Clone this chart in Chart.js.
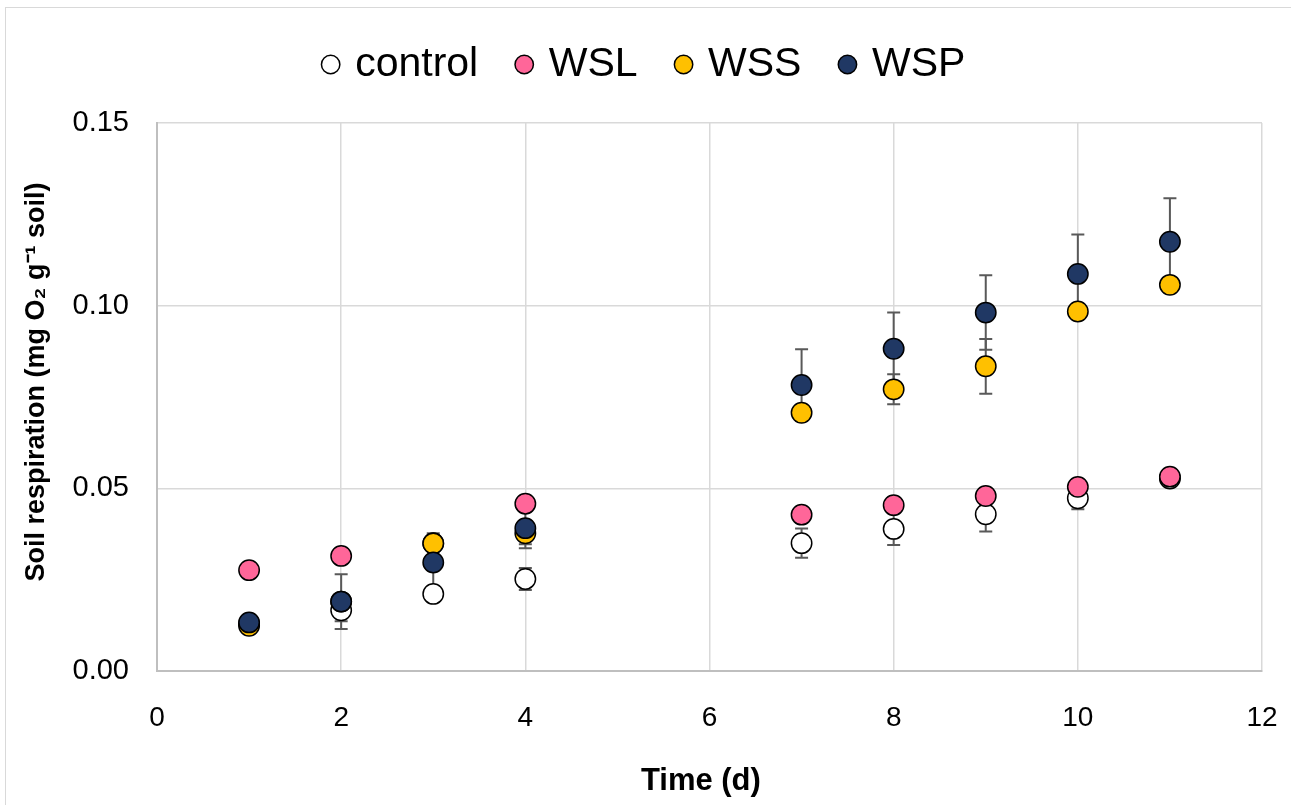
<!DOCTYPE html>
<html>
<head>
<meta charset="utf-8">
<script src="https://cdn.jsdelivr.net/npm/chart.js@4.4.1/dist/chart.umd.min.js"></script>
<style>
  html, body { margin: 0; padding: 0; background: #fff; overflow: hidden; }
  #frame { position: absolute; left: 5px; top: 7px; width: 1300px; height: 820px; border: 1px solid #d9d9d9; }
  #chart { position: absolute; left: 0; top: 0; }
</style>
</head>
<body>
<div id="frame"></div>
<canvas id="chart" width="1291" height="805"></canvas>
<script>
// data
const days = [1, 2, 3, 4, 7, 8, 9, 10, 11];
const control = [0.013, 0.0166, 0.0211, 0.0252, 0.0350, 0.0389, 0.0429, 0.0473, 0.0527];
const controlErr = [0.001, 0.003, 0.002, 0.003, 0.004, 0.0044, 0.0047, 0.003, 0.002];
const wsl = [0.0276, 0.0315, 0.0350, 0.0458, 0.0428, 0.0454, 0.0479, 0.0504, 0.0532];
const wslErr = [0.001, 0.002, 0.002, 0.002, 0.002, 0.002, 0.002, 0.002, 0.002];
const wss = [0.0124, 0.0190, 0.0349, 0.0377, 0.0707, 0.0771, 0.0834, 0.0984, 0.1057];
const wssErr = [0.001, 0.002, 0.002, 0.003, 0.002, 0.0041, 0.0075, 0.002, 0.002];
const wsp = [0.0133, 0.0190, 0.0297, 0.0391, 0.0783, 0.0882, 0.0981, 0.1087, 0.1175];
const wspErr = [0.001, 0.0075, 0.008, 0.0055, 0.0098, 0.0099, 0.0102, 0.0108, 0.0119];

const xTicks = [0, 2, 4, 6, 8, 10, 12];
const yTicks = [0, 0.05, 0.10, 0.15];

const font = "'Liberation Sans', Arial, sans-serif";

function points(vals) {
    return vals.map((v, i) => ({x: days[i], y: v}));
}

function series(label, vals, errs, fill, order) {
    return {
        label: label,
        data: points(vals),
        errors: errs,
        backgroundColor: fill,
        borderColor: '#000000',
        borderWidth: 1.5,
        pointRadius: 10.2,
        pointHoverRadius: 10.2,
        pointStyle: 'circle',
        showLine: false,
        order: order
    };
}

// error bars go under all markers
const errorBars = {
    id: 'errorBars',
    beforeDatasetsDraw(chart) {
        const ctx = chart.ctx, x = chart.scales.x, y = chart.scales.y;
        ctx.save();
        ctx.strokeStyle = '#595959';
        ctx.lineWidth = 2;
        chart.data.datasets.forEach(ds => {
            ds.data.forEach((p, j) => {
                const e = ds.errors[j];
                const px = x.getPixelForValue(p.x);
                const top = y.getPixelForValue(p.y + e);
                const bot = y.getPixelForValue(p.y - e);
                ctx.beginPath();
                ctx.moveTo(px, top); ctx.lineTo(px, bot);
                ctx.moveTo(px - 6.5, top); ctx.lineTo(px + 6.5, top);
                ctx.moveTo(px - 6.5, bot); ctx.lineTo(px + 6.5, bot);
                ctx.stroke();
            });
        });
        ctx.restore();
    }
};

// fix the legend box height so the plot starts where it should
const legendFit = {
    id: 'legendFit',
    beforeLayout(chart) {
        const lg = chart.legend;
        if (lg && !lg._fixed) {
            const fit = lg.fit;
            lg.fit = function () { fit.call(this); this.height = 121; };
            lg._fixed = true;
        }
    }
};

const config = {
    type: 'scatter',
    data: {
        datasets: [
            series('control', control, controlErr, '#ffffff', 4),
            series('WSL', wsl, wslErr, '#ff6699', 3),
            series('WSS', wss, wssErr, '#ffc000', 2),
            series('WSP', wsp, wspErr, '#203864', 1)
        ]
    },
    options: {
        responsive: false,
        animation: false,
        devicePixelRatio: 1,
        layout: {padding: {left: 30, right: 29, top: 2, bottom: 0}},
        plugins: {
            tooltip: {enabled: false},
            legend: {
                position: 'top',
                labels: {
                    usePointStyle: true,
                    boxWidth: 8,
                    boxHeight: 13,
                    padding: 42,
                    color: '#000',
                    font: {family: font, size: 41},
                    sort: (a, b) => a.datasetIndex - b.datasetIndex
                }
            }
        },
        scales: {
            x: {
                type: 'linear',
                min: 0,
                max: 12,
                afterFit: axis => {
                    axis.height = 134;
                    axis.paddingLeft = 0;
                    axis.paddingRight = 0;
                },
                afterBuildTicks: axis => { axis.ticks = xTicks.map(v => ({value: v})); },
                grid: {color: '#d9d9d9', lineWidth: 1.5, drawTicks: false},
                border: {color: '#bfbfbf', width: 2},
                ticks: {color: '#000', padding: 30, font: {family: font, size: 28}},
                title: {
                    display: true,
                    text: 'Time (d)  ',
                    color: '#000',
                    font: {family: font, size: 31, weight: 'bold'},
                    padding: {top: 0, bottom: 5}
                }
            },
            y: {
                type: 'linear',
                min: 0,
                max: 0.15,
                afterFit: axis => {
                    axis.width = 127;
                    axis.paddingTop = 0;
                    axis.paddingBottom = 0;
                },
                afterBuildTicks: axis => { axis.ticks = yTicks.map(v => ({value: v})); },
                grid: {color: '#d9d9d9', lineWidth: 1.5, drawTicks: false},
                border: {color: '#bfbfbf', width: 2},
                ticks: {
                    color: '#000',
                    padding: 28,
                    font: {family: font, size: 29},
                    callback: v => v.toFixed(2)
                },
                title: {
                    display: true,
                    text: '    Soil respiration (mg O\u2082 g\u207B\u00B9 soil)',
                    color: '#000',
                    font: {family: font, size: 27, weight: 'bold'},
                    padding: {top: -10, bottom: 0}
                }
            }
        }
    },
    plugins: [errorBars, legendFit]
};

var myChart = new Chart(document.getElementById('chart'), config);
</script>
</body>
</html>
